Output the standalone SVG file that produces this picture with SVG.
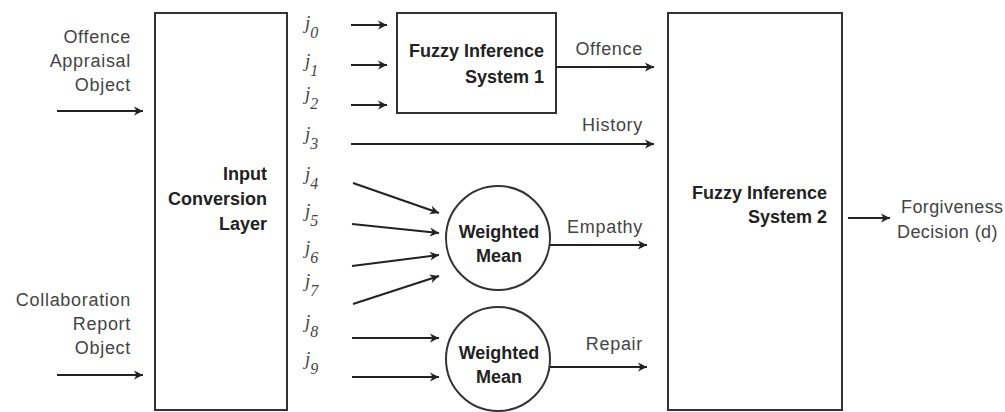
<svg xmlns="http://www.w3.org/2000/svg" width="1005" height="412" viewBox="0 0 1005 412">
<style>
.box{fill:#fff;stroke:#333;stroke-width:2}
.ln{fill:none;stroke:#222;stroke-width:2;marker-end:url(#ah)}
.lbl{font-family:"Liberation Sans",Arial,sans-serif;font-size:18px;fill:#444;letter-spacing:0.7px}
.bold{font-family:"Liberation Sans",Arial,sans-serif;font-size:18px;font-weight:bold;fill:#222}
.j{font-family:"Liberation Serif","Times New Roman",serif;font-style:italic;font-size:19px;fill:#444}
.sub{font-size:16px}
</style>
<defs>
<marker id="ah" markerWidth="11" markerHeight="11" refX="10" refY="5.5" orient="auto" markerUnits="userSpaceOnUse">
<path d="M1,1 L10,5.5 L1,10 L3.5,5.5 z" fill="#222"/>
</marker>
</defs>
<rect width="1005" height="412" fill="#fff"/>

<g id="offence-appraisal-object">
<text class="lbl" text-anchor="end"><tspan x="131" y="43">Offence</tspan><tspan x="131" y="67">Appraisal</tspan><tspan x="131" y="91">Object</tspan></text>
</g>
<g id="collaboration-report-object">
<text class="lbl" text-anchor="end"><tspan x="131" y="306">Collaboration</tspan><tspan x="131" y="330">Report</tspan><tspan x="131" y="354">Object</tspan></text>
</g>

<g id="input-conversion-layer">
<rect class="box" x="155" y="13" width="132" height="397"/>
<text class="bold" text-anchor="end"><tspan x="267" y="180">Input</tspan><tspan x="267" y="205">Conversion</tspan><tspan x="267" y="230">Layer</tspan></text>
</g>

<g id="j-labels">
<text class="j" x="305" y="29">j<tspan class="sub" dy="9">0</tspan></text>
<text class="j" x="305" y="67">j<tspan class="sub" dy="9">1</tspan></text>
<text class="j" x="305" y="100">j<tspan class="sub" dy="9">2</tspan></text>
<text class="j" x="305" y="140">j<tspan class="sub" dy="9">3</tspan></text>
<text class="j" x="305" y="180">j<tspan class="sub" dy="9">4</tspan></text>
<text class="j" x="305" y="217">j<tspan class="sub" dy="9">5</tspan></text>
<text class="j" x="305" y="254">j<tspan class="sub" dy="9">6</tspan></text>
<text class="j" x="305" y="287">j<tspan class="sub" dy="9">7</tspan></text>
<text class="j" x="305" y="328">j<tspan class="sub" dy="9">8</tspan></text>
<text class="j" x="305" y="365">j<tspan class="sub" dy="9">9</tspan></text>
</g>

<g id="fis1">
<rect class="box" x="397" y="13" width="159" height="100"/>
<text class="bold" text-anchor="end"><tspan x="544" y="57">Fuzzy Inference</tspan><tspan x="544" y="83">System 1</tspan></text>
</g>

<g id="weighted-mean-1">
<circle class="box" cx="498" cy="238" r="52"/>
<text class="bold" text-anchor="middle"><tspan x="499" y="238">Weighted</tspan><tspan x="499" y="262">Mean</tspan></text>
</g>

<g id="weighted-mean-2">
<circle class="box" cx="498" cy="359" r="52"/>
<text class="bold" text-anchor="middle"><tspan x="499" y="359">Weighted</tspan><tspan x="499" y="383">Mean</tspan></text>
</g>

<g id="fis2">
<rect class="box" x="668" y="13" width="174" height="397"/>
<text class="bold" text-anchor="end"><tspan x="827" y="199">Fuzzy Inference</tspan><tspan x="827" y="223">System 2</tspan></text>
</g>

<g id="forgiveness-decision">
<text class="lbl" style="letter-spacing:0.4px"><tspan x="901" y="213">Forgiveness</tspan><tspan x="897" y="238">Decision (d)</tspan></text>
</g>

<g id="connectors">
<line class="ln" x1="57" y1="111" x2="143" y2="111"/>
<line class="ln" x1="57" y1="375" x2="143" y2="375"/>
<line class="ln" x1="351" y1="25" x2="387" y2="25"/>
<line class="ln" x1="351" y1="65" x2="387" y2="65"/>
<line class="ln" x1="351" y1="105" x2="387" y2="105"/>
<line class="ln" x1="556" y1="67" x2="654" y2="67"/>
<line class="ln" x1="351" y1="144" x2="654" y2="144"/>
<line class="ln" x1="353" y1="183" x2="439" y2="213"/>
<line class="ln" x1="352" y1="224" x2="439" y2="233"/>
<line class="ln" x1="352" y1="266" x2="439" y2="255"/>
<line class="ln" x1="353" y1="304" x2="439" y2="276"/>
<line class="ln" x1="352" y1="338" x2="439" y2="338"/>
<line class="ln" x1="352" y1="377" x2="439" y2="377"/>
<line class="ln" x1="550" y1="245" x2="647" y2="245"/>
<line class="ln" x1="550" y1="367" x2="647" y2="367"/>
<line class="ln" x1="848" y1="218" x2="890" y2="218"/>
<text class="lbl" text-anchor="end" x="643" y="55">Offence</text>
<text class="lbl" text-anchor="end" x="643" y="131">History</text>
<text class="lbl" text-anchor="end" x="643" y="233">Empathy</text>
<text class="lbl" text-anchor="end" x="643" y="350">Repair</text>
</g>
</svg>
